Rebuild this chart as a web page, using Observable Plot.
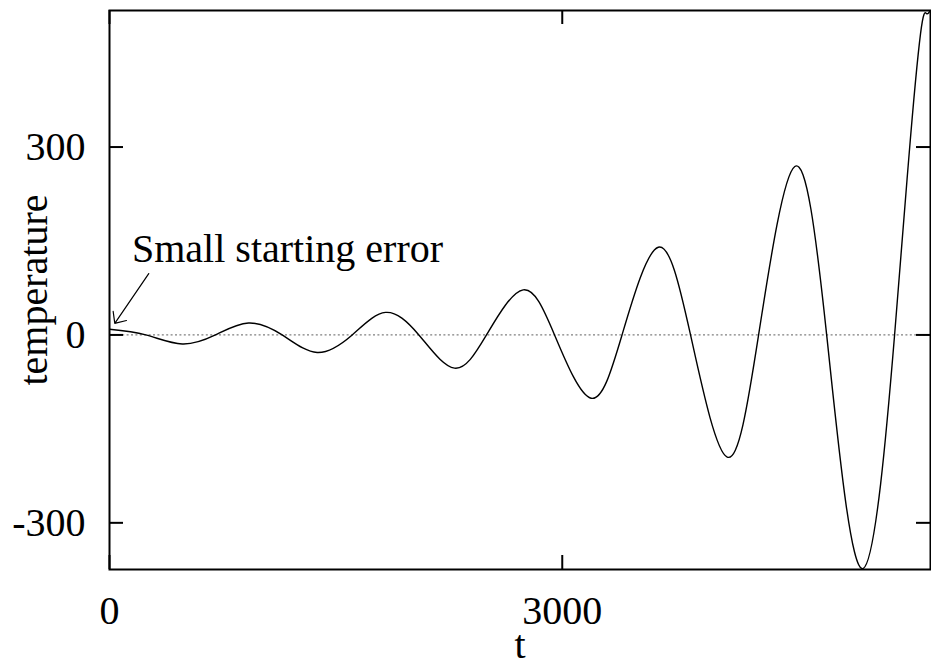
<!DOCTYPE html>
<html><head><meta charset="utf-8">
<script src="https://cdn.jsdelivr.net/npm/d3@7"></script>
<script src="https://cdn.jsdelivr.net/npm/@observablehq/plot@0.6"></script>
<style>body{margin:0;background:#fff}</style>
</head><body><div id="chart"></div>
<script>
// Data
const tValues     = [0, 240, 482, 702, 921, 1144, 1376, 1608, 1829, 2050, 2286, 2498, 2741, 2949, 3191, 3396, 3636, 3850, 4093, 4301, 4541, 4752, 4992, 5202, 5295, 5374, 5414, 5440];
const temperature = [9, 0, -14.5, 0, 19, 0, -28, 0, 36, 0, -53, 0, 72, 0, -101, 0, 140, 0, -195, 0, 269, 0, -373, 0, 279, 481, 513, 519];
const xTicks = [0, 3000];
const yTicks = [-300, 0, 300];
const xLabel = "t";
const yLabel = "temperature";
const noteText = "Small starting error";
const notePos = [149, 137];
const arrowFrom = [260, 98];
const arrowTo = [35, 18.5];

const data = tValues.map((t, i) => ({t, temp: temperature[i]}));

const W = 931, H = 666, mL = 109, mR = 1, mT = 10, mB = 97;
const innerW = W - mL - mR, innerH = H - mT - mB;
const tickLen = 14;

const chart = Plot.plot({
  width: W, height: H,
  marginLeft: mL, marginRight: mR, marginTop: mT, marginBottom: mB,
  style: {fontFamily: "'Liberation Serif', 'Times New Roman', serif", fontSize: "40px", background: "white", color: "black"},
  x: {domain: [0, 5440]},
  y: {domain: [-374.5, 518]},
  marks: [
    Plot.ruleY([0], {stroke: "#808080", strokeDasharray: "2,2.4", strokeWidth: 1.3}),
    Plot.line(data, {x: "t", y: "temp", curve: "natural", stroke: "black", strokeWidth: 1.4, clip: true}),
    Plot.tickY(yTicks, {y: d => d, insetRight: innerW - tickLen, strokeWidth: 2}),
    Plot.tickY(yTicks, {y: d => d, insetLeft: innerW - tickLen, strokeWidth: 2}),
    Plot.tickX(xTicks, {x: d => d, insetTop: innerH - tickLen, strokeWidth: 2}),
    Plot.tickX(xTicks, {x: d => d, insetBottom: innerH - tickLen, strokeWidth: 2}),
    Plot.axisX(xTicks, {tickSize: 0, tickPadding: 26, tickFormat: d => String(d), label: null}),
    Plot.axisY(yTicks, {tickSize: 0, tickPadding: 24, tickFormat: d => String(d), label: null}),
    Plot.frame({strokeWidth: 2}),
    Plot.text([xLabel], {frameAnchor: "bottom", dy: 76, lineAnchor: "middle", textAnchor: "middle", text: d => d}),
    Plot.text([yLabel], {frameAnchor: "left", dx: -75, rotate: -90, textAnchor: "middle", lineAnchor: "middle", text: d => d}),
    Plot.arrow([0], {x1: () => arrowFrom[0], y1: () => arrowFrom[1], x2: () => arrowTo[0], y2: () => arrowTo[1],
      headLength: 15, headAngle: 84, strokeWidth: 1.2, stroke: "black"}),
    Plot.text([noteText], {x: () => notePos[0], y: () => notePos[1], text: d => d, textAnchor: "start"})
  ]
});
document.getElementById("chart").appendChild(chart);
</script>
</body></html>
